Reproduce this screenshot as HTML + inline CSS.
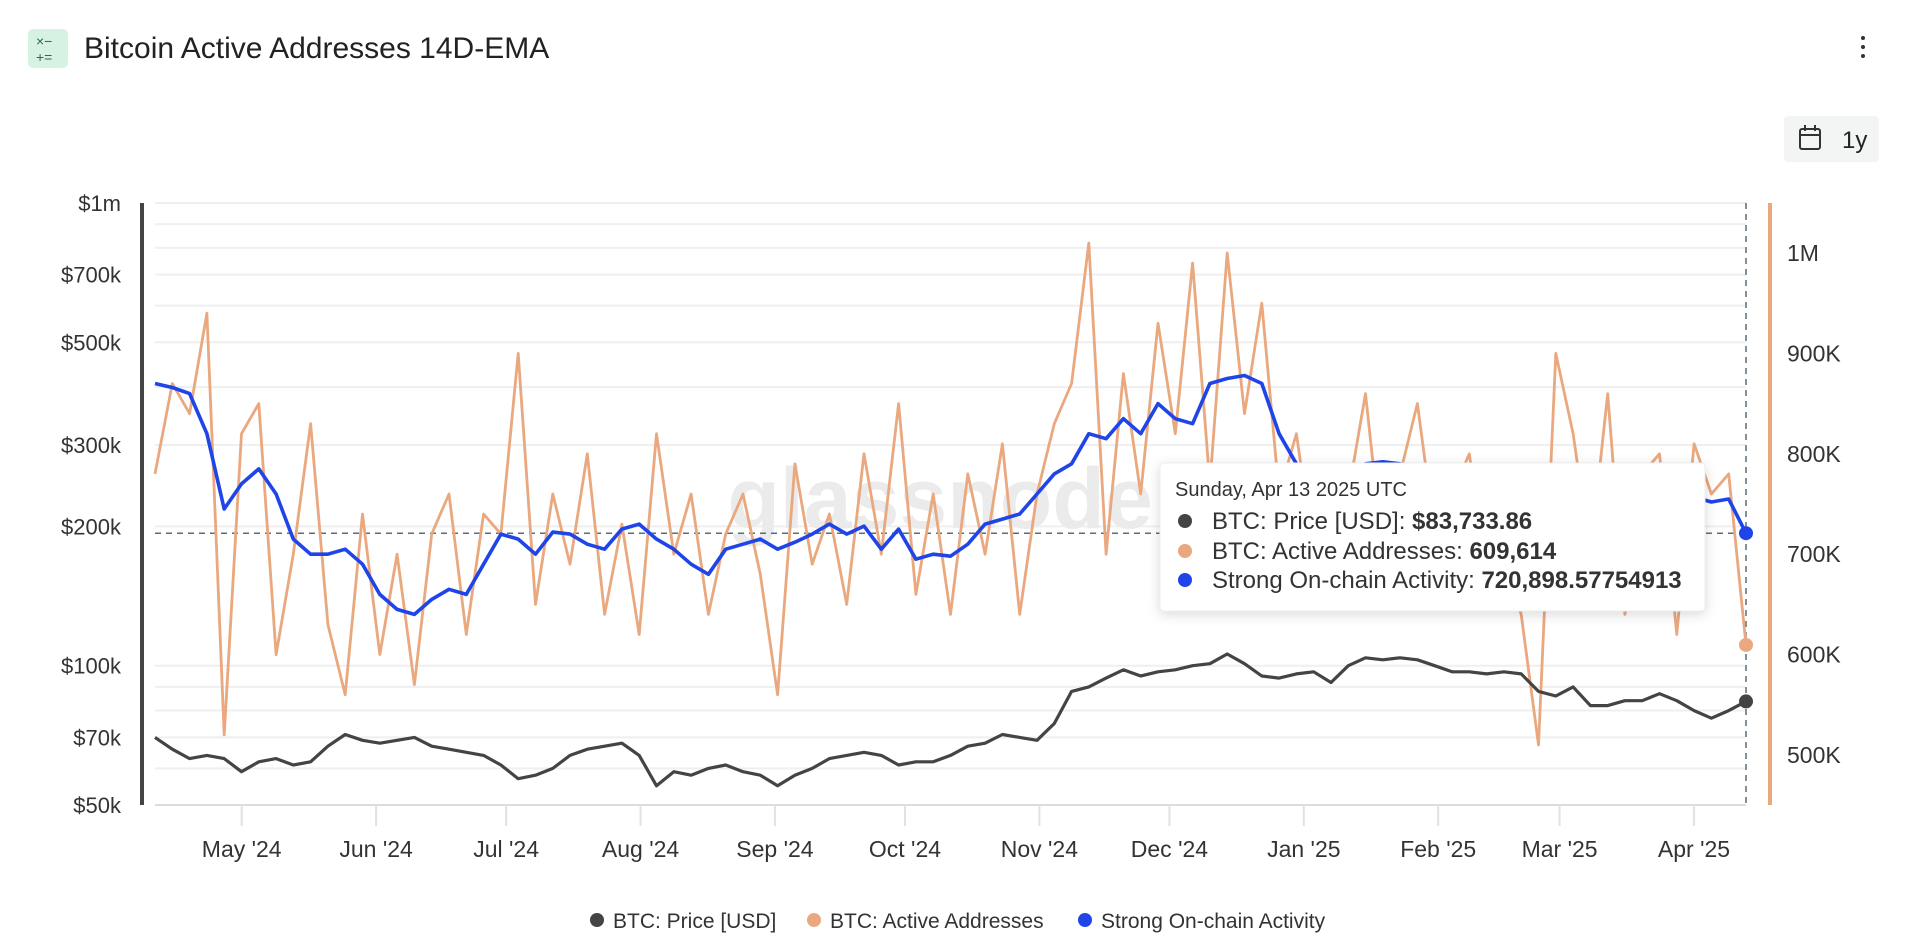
<!DOCTYPE html>
<html><head><meta charset="utf-8"><style>
html,body{margin:0;padding:0;background:#fff;width:1910px;height:952px;overflow:hidden;font-family:"Liberation Sans",sans-serif;}
svg{display:block}
</style></head><body>
<svg id="chart" width="1910" height="952" viewBox="0 0 1910 952" xmlns="http://www.w3.org/2000/svg">
  <g>
    <rect x="28" y="29" width="40" height="39" rx="5" fill="#d5f2e3"/>
    <text x="36" y="46" font-size="14" fill="#2a6a4d">×−</text>
    <text x="36" y="62" font-size="14" fill="#2a6a4d">+=</text>
    <text x="84" y="58" font-size="30" fill="#222">Bitcoin Active Addresses 14D-EMA</text>
    <g><circle cx="1863" cy="38" r="2" fill="#333"/><circle cx="1863" cy="47" r="2" fill="#333"/><circle cx="1863" cy="56" r="2" fill="#333"/></g>
    <g>
      <rect x="1784" y="116" width="95" height="46" rx="4" fill="#f3f4f4"/>
      <rect x="1800" y="129" width="20" height="20" rx="2" fill="none" stroke="#333" stroke-width="2"/>
      <line x1="1800" y1="135" x2="1820" y2="135" stroke="#333" stroke-width="2"/>
      <line x1="1805" y1="125" x2="1805" y2="131" stroke="#333" stroke-width="2"/>
      <line x1="1815" y1="125" x2="1815" y2="131" stroke="#333" stroke-width="2"/>
      <text x="1842" y="148" font-size="24" fill="#222">1y</text>
    </g>
  </g>
  <g id="grid"></g>
  <text x="940" y="528" font-size="86" fill="#ebebeb" text-anchor="middle" font-weight="bold">glassnode</text>
  <g id="axes"></g>
  <g id="series"></g>
  <g>
    <rect x="1160" y="463" width="545" height="148" rx="4" fill="#fff" stroke="#eee" style="filter:drop-shadow(0 3px 6px rgba(0,0,0,0.15))"/>
    <text x="1175" y="496" font-size="20" fill="#333">Sunday, Apr 13 2025 UTC</text>
    <circle cx="1185" cy="521" r="7" fill="#444"/>
    <text x="1212" y="529" font-size="24" fill="#333">BTC: Price [USD]: <tspan font-weight="bold">$83,733.86</tspan></text>
    <circle cx="1185" cy="551" r="7" fill="#eaa87f"/>
    <text x="1212" y="559" font-size="24" fill="#333">BTC: Active Addresses: <tspan font-weight="bold">609,614</tspan></text>
    <circle cx="1185" cy="580" r="7" fill="#1f45e8"/>
    <text x="1212" y="588" font-size="24" fill="#333">Strong On-chain Activity: <tspan font-weight="bold">720,898.57754913</tspan></text>
  </g>
  <g>
    <g><circle cx="597" cy="920" r="7" fill="#444"/><text x="613" y="928" font-size="21" fill="#333">BTC: Price [USD]</text></g>
    <g><circle cx="814" cy="920" r="7" fill="#eaa87f"/><text x="830" y="928" font-size="21" fill="#333">BTC: Active Addresses</text></g>
    <g><circle cx="1085" cy="920" r="7" fill="#1f45e8"/><text x="1101" y="928" font-size="21" fill="#333">Strong On-chain Activity</text></g>
  </g>
</svg>
<script>
const monthLabels = ["May '24","Jun '24","Jul '24","Aug '24","Sep '24","Oct '24","Nov '24","Dec '24","Jan '25","Feb '25","Mar '25","Apr '25"];
const monthDays = [20,51,81,112,143,173,204,234,265,296,324,355];
const leftTicks = [1000000,700000,500000,300000,200000,100000,70000,50000];
const leftTickLabels = ["$1m","$700k","$500k","$300k","$200k","$100k","$70k","$50k"];
const rightTicks = [1000000,900000,800000,700000,600000,500000];
const rightTickLabels = ["1M","900K","800K","700K","600K","500K"];
const activeK = [780,870,840,940,520,820,850,600,700,830,630,560,740,600,700,570,720,760,620,740,720,900,650,760,690,800,640,730,620,820,700,760,640,720,760,680,560,790,690,740,650,800,700,850,660,760,640,780,700,810,640,760,830,870,1010,700,880,760,930,820,990,770,1000,840,950,760,820,700,790,760,860,700,780,850,720,760,800,680,690,640,510,900,820,700,860,640,780,800,620,810,760,780,609.6];
const strongK = [870,866,860,820,745,770,785,760,715,700,700,705,690,660,645,640,655,665,660,690,720,715,700,722,720,710,705,725,730,715,705,690,680,705,710,715,705,712,720,730,720,728,705,725,695,700,698,710,730,735,740,760,780,790,820,815,835,820,850,835,830,870,875,878,870,820,790,780,775,770,790,792,790,780,775,770,765,760,770,775,780,775,770,770,765,765,770,765,760,757,752,755,720.9];
const priceK = [70,66,63,64,63,59,62,63,61,62,67,71,69,68,69,70,67,66,65,64,61,57,58,60,64,66,67,68,64,55,59,58,60,61,59,58,55,58,60,63,64,65,64,61,62,62,64,67,68,71,70,69,75,88,90,94,98,95,97,98,100,101,106,101,95,94,96,97,92,100,104,103,104,103,100,97,97,96,97,96,88,86,90,82,82,84,84,87,84,80,77,80,83.73];

const NS="http://www.w3.org/2000/svg";
const X0=155, X1=1746, Y0=203, Y1=805, TOTAL_DAYS=367;
const xDay = d => X0 + d*(X1-X0)/TOTAL_DAYS;
const xIdx = i => X0 + i*(X1-X0)/(activeK.length-1);
const yLeft = v => Y1 - (Math.log10(v)-Math.log10(50000))*(Y1-Y0)/(Math.log10(1000000)-Math.log10(50000));
const yRight = v => 253 + (1000000-v)/100000*100.4;
function mk(tag, attrs, parent){const e=document.createElementNS(NS,tag);for(const k in attrs)e.setAttribute(k,attrs[k]);parent.appendChild(e);return e;}

const grid=document.getElementById('grid');
const gridVals=[];
for(let v=50000;v<100000;v+=10000)gridVals.push(v);
for(let v=100000;v<=1000000;v+=100000)gridVals.push(v);
gridVals.forEach(v=>{
  const l=mk('line',{x1:X0,x2:X1,y1:yLeft(v),y2:yLeft(v),stroke:v===50000?'#dcdcdc':'#efefef','stroke-width':2},grid);
  
  
});

const axes=document.getElementById('axes');
const la=mk('line',{x1:142,x2:142,y1:Y0,y2:Y1,stroke:'#444','stroke-width':4},axes);


const ra=mk('line',{x1:1770,x2:1770,y1:Y0,y2:Y1,stroke:'#eaa87f','stroke-width':4},axes);


leftTicks.forEach((v,i)=>{
  const t=mk('text',{x:121,y:yLeft(v)+8,'font-size':22,fill:'#333','text-anchor':'end'},axes);
  t.textContent=leftTickLabels[i];
  
  
});
rightTicks.forEach((v,i)=>{
  const t=mk('text',{x:1787,y:yRight(v)+8,'font-size':23,fill:'#333'},axes);
  t.textContent=rightTickLabels[i];
  
  
});
monthDays.forEach((d,i)=>{
  const x=xDay(d);
  const tk=mk('line',{x1:x,x2:x,y1:Y1,y2:826,stroke:'#e2e2e2','stroke-width':2},axes);
  
  
  const t=mk('text',{x:x,y:857,'font-size':23,fill:'#333','text-anchor':'middle'},axes);
  t.textContent=monthLabels[i];
  
  
});
const last=activeK.length-1;
const hy=yRight(strongK[last]*1000);
const ch=mk('line',{x1:X0,x2:X1,y1:hy,y2:hy,stroke:'#5a6e78','stroke-width':1.5,'stroke-dasharray':'6 5'},axes);


const cv=mk('line',{x1:X1,x2:X1,y1:Y0,y2:Y1,stroke:'#5a6e78','stroke-width':1.5,'stroke-dasharray':'6 5'},axes);



const series=document.getElementById('series');
function line(arr,fy,color,w,name){
  const d=arr.map((v,i)=>(i?'L':'M')+xIdx(i).toFixed(1)+','+fy(v).toFixed(1)).join(' ');
  const p=mk('path',{d:d,fill:'none',stroke:color,'stroke-width':w,'stroke-linejoin':'round'},series);
  
  
}
line(activeK,v=>yRight(v*1000),'#eaa87f',2.8,'active-addresses-line');
line(strongK,v=>yRight(v*1000),'#1f45e8',3.6,'onchain-activity-line');
line(priceK,v=>yLeft(v*1000),'#444',3.2,'price-line');
const m1=mk('circle',{cx:X1,cy:yRight(activeK[last]*1000),r:7,fill:'#eaa87f'},series);


const m2=mk('circle',{cx:X1,cy:yRight(strongK[last]*1000),r:7,fill:'#1f45e8'},series);


const m3=mk('circle',{cx:X1,cy:yLeft(priceK[last]*1000),r:7,fill:'#444'},series);


</script>
</body></html>
